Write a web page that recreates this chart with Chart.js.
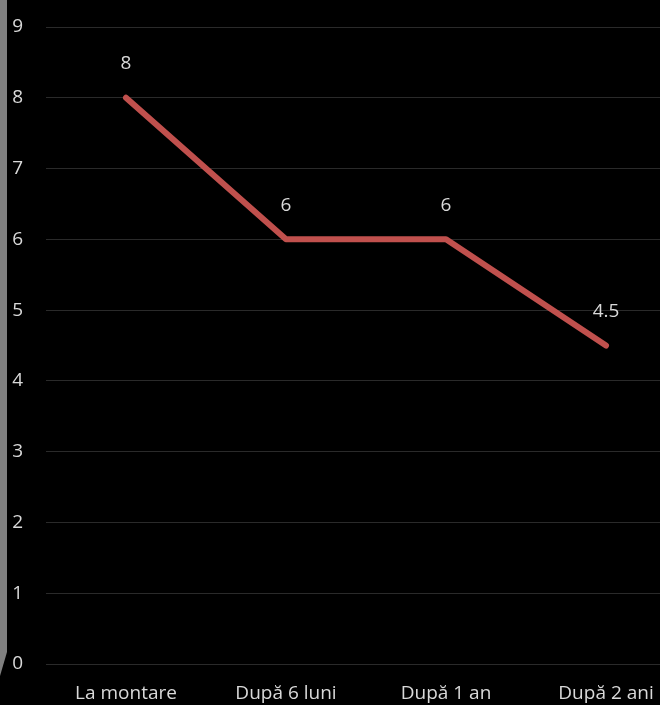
<!DOCTYPE html>
<html>
<head>
<meta charset="utf-8">
<script src="https://cdn.jsdelivr.net/npm/chart.js@4/dist/chart.umd.min.js"></script>
<style>
  html, body { margin: 0; padding: 0; background: #000; overflow: hidden; width: 660px; height: 705px; }
  #wrap { position: relative; width: 660px; height: 705px; overflow: hidden; }
  canvas { position: absolute; left: 0; top: 0; }
  #edge { position: absolute; left: 0; top: 0; width: 7px; height: 676px; background: #808080;
          clip-path: polygon(0 0, 100% 0, 100% 652px, 0 676px); }
</style>
</head>
<body>
<div id="wrap">
  <canvas id="c" width="700" height="705"></canvas>
  <div id="edge"></div>
</div>
<script>
const categories = ["La montare", "După 6 luni", "După 1 an", "După 2 ani"];
const values = [8, 6, 6, 4.5];
const valueLabels = ["8", "6", "6", "4.5"];
const yTicks = [0, 1, 2, 3, 4, 5, 6, 7, 8, 9];

const textColor = "#d9d9d9";
const fontFamily = "'Open Sans', Lato, sans-serif";
const fontSize = 19;

const labelPlugin = {
  id: "valueLabels",
  afterDatasetsDraw(chart) {
    const ctx = chart.ctx;
    const meta = chart.getDatasetMeta(0);
    ctx.save();
    ctx.fillStyle = textColor;
    ctx.font = fontSize + "px " + fontFamily;
    ctx.textAlign = "center";
    ctx.textBaseline = "middle";
    meta.data.forEach((pt, i) => {
      ctx.fillText(valueLabels[i], pt.x, pt.y - 34);
    });
    ctx.restore();
  }
};

new Chart(document.getElementById("c"), {
  type: "line",
  data: {
    labels: categories,
    datasets: [{
      data: values,
      borderColor: "#c0504d",
      borderWidth: 6,
      borderCapStyle: "round",
      borderJoinStyle: "round",
      pointRadius: 0,
      pointHoverRadius: 0,
      tension: 0,
      fill: false
    }]
  },
  options: {
    responsive: false,
    animation: false,
    events: [],
    layout: { padding: { top: 27, right: 14, left: 0, bottom: 0 } },
    plugins: { legend: { display: false }, tooltip: { enabled: false } },
    scales: {
      x: {
        offset: true,
        grid: { display: false, drawTicks: false },
        border: { display: false },
        ticks: { color: textColor, font: { family: fontFamily, size: fontSize }, padding: 18, maxRotation: 0 },
        afterFit(s) { s.height = 41; }
      },
      y: {
        min: 0,
        max: 9,
        afterBuildTicks(s) { s.ticks = yTicks.map(v => ({ value: v })); },
        grid: { color: "#2a2a2a", lineWidth: 1, drawTicks: false },
        border: { display: false },
        ticks: { color: textColor, font: { family: fontFamily, size: fontSize }, padding: 23 },
        afterFit(s) { s.width = 46; s.paddingTop = 0; s.paddingBottom = 0; }
      }
    }
  },
  plugins: [labelPlugin]
});
</script>
</body>
</html>
